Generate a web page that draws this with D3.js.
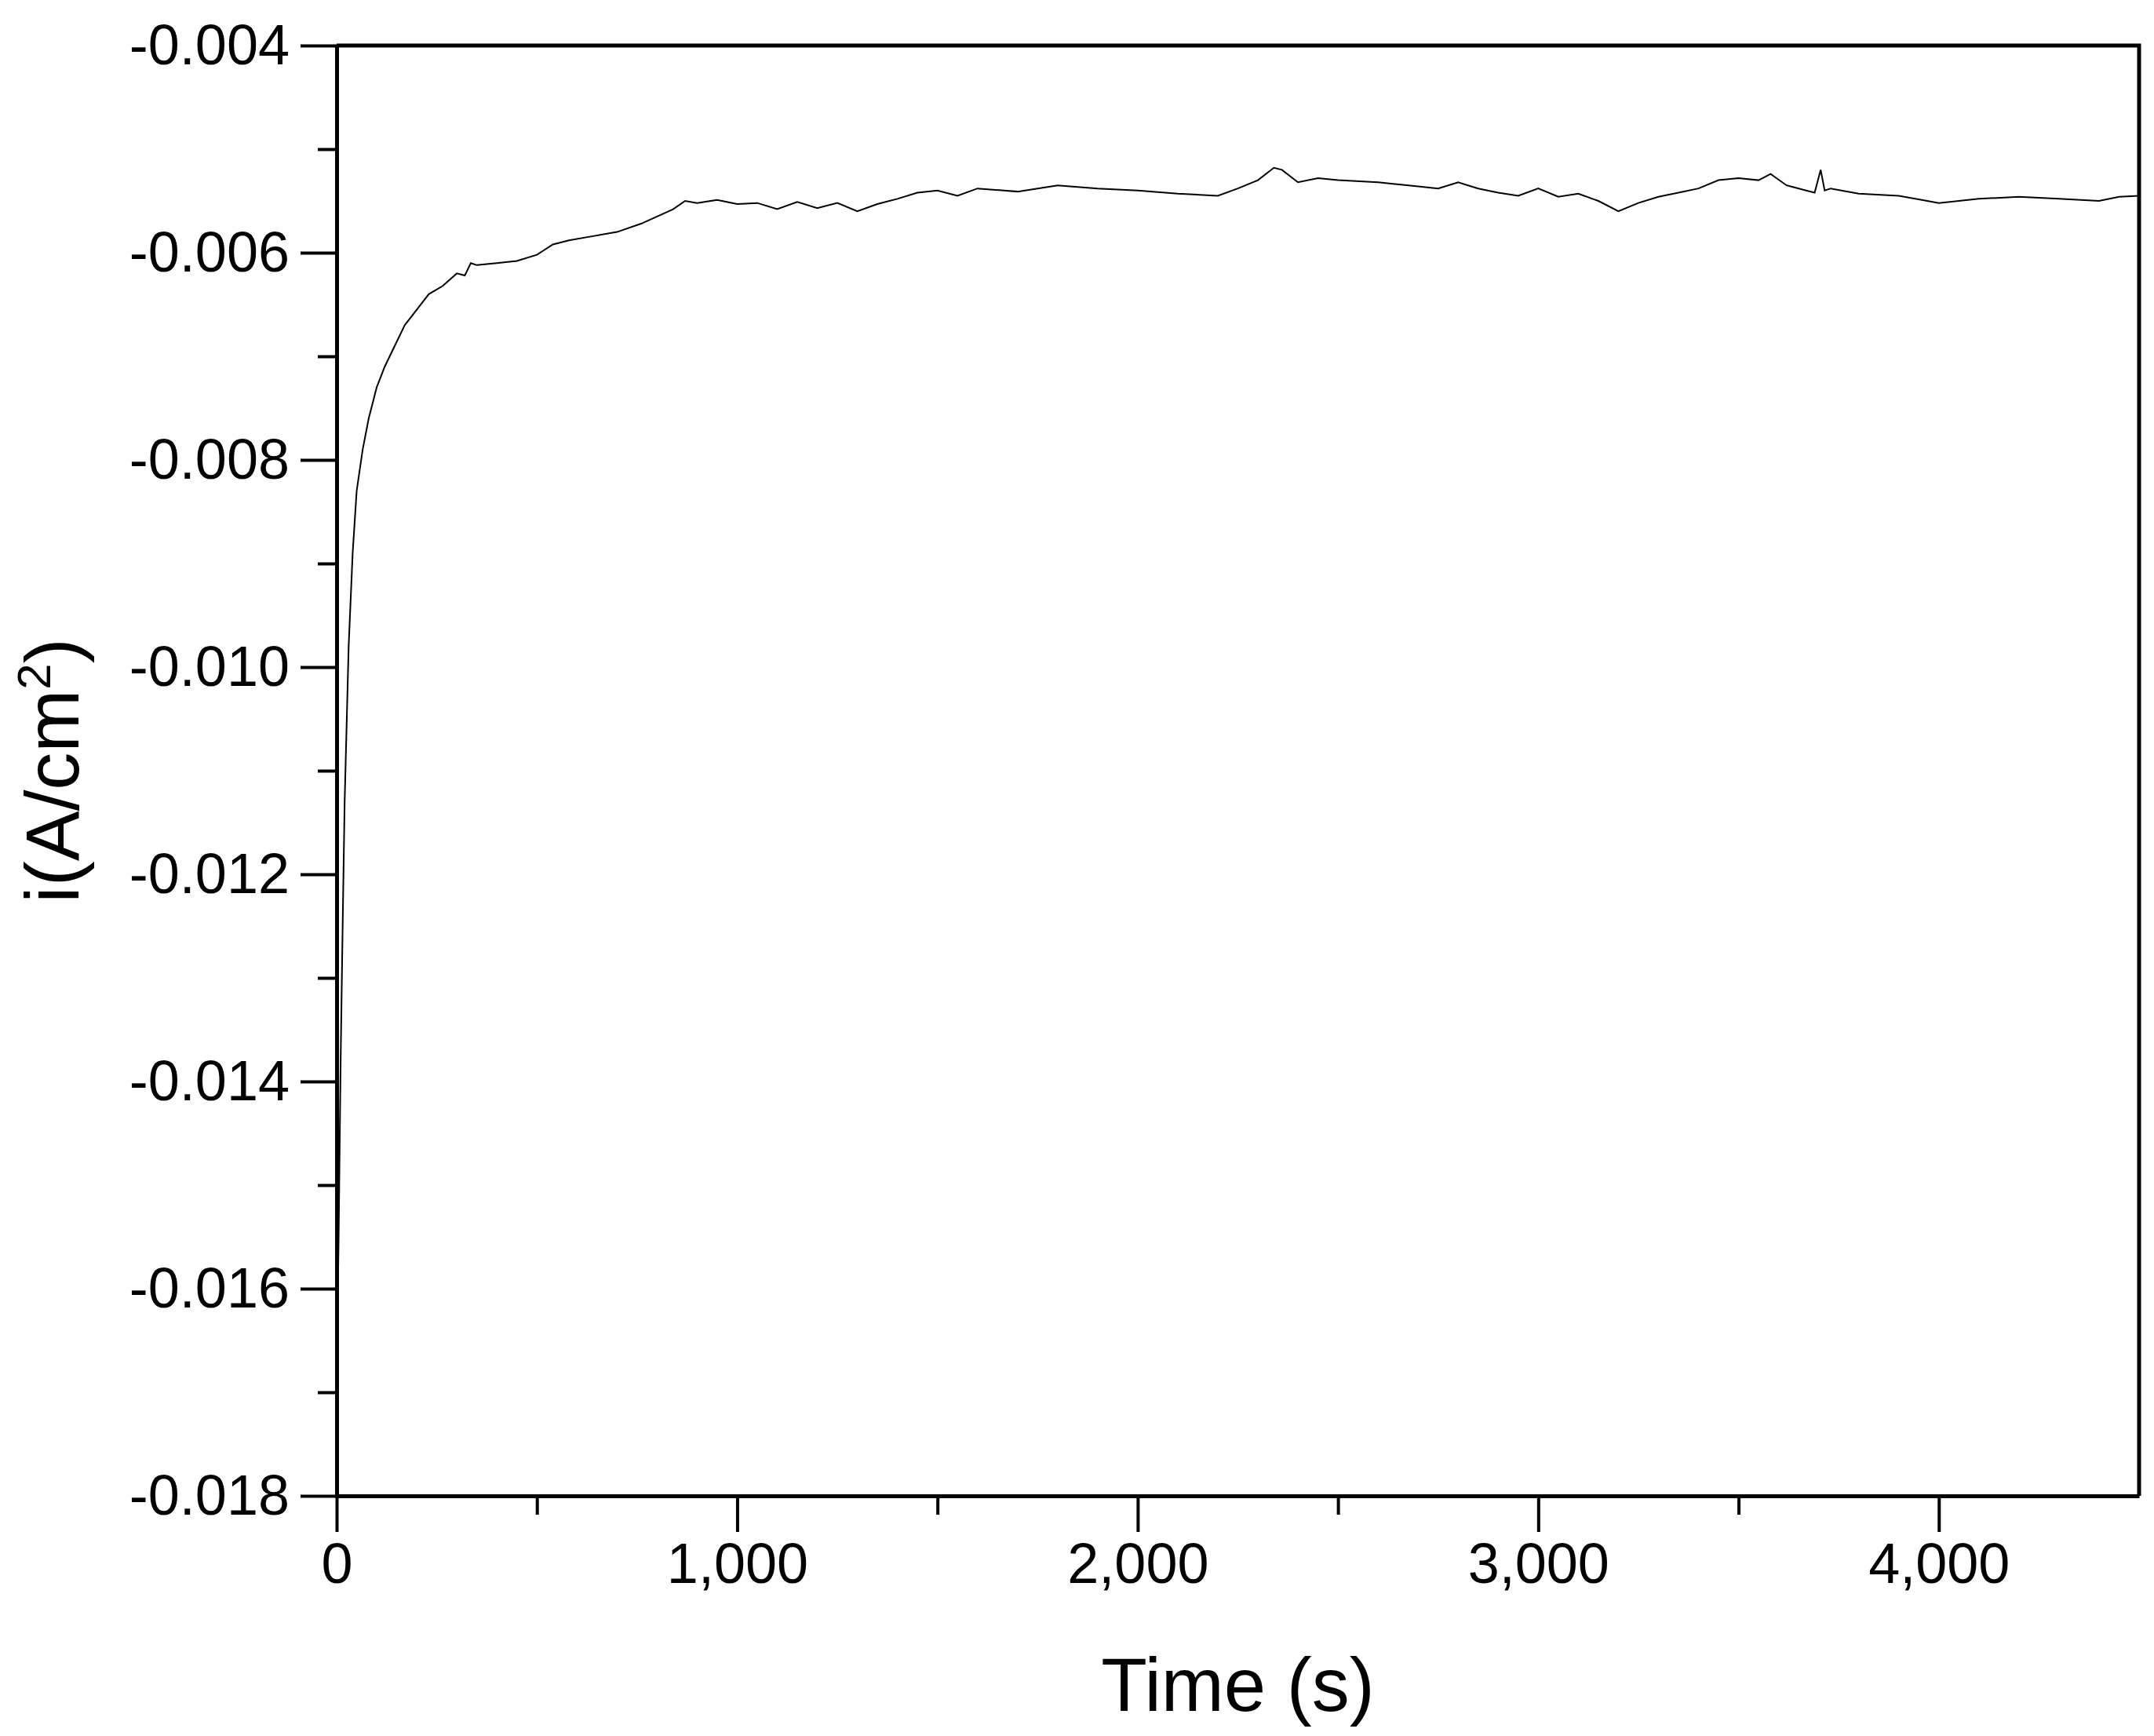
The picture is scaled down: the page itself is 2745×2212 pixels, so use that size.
<!DOCTYPE html>
<html><head><meta charset="utf-8">
<script src="https://cdn.jsdelivr.net/npm/d3@7"></script>
<style>body{margin:0;background:#fff}text{font-family:"Liberation Sans",Arial,sans-serif}</style>
</head><body>
<script>
// data
const times = [0,5,10,15,20,30,40,50,65,80,100,120,145,170,200,230,265,300,320,335,350,400,450,500,540,580,640,700,760,800,840,870,900,950,1000,1050,1100,1150,1200,1250,1300,1350,1400,1450,1500,1550,1600,1700,1800,1900,2000,2100,2200,2250,2300,2340,2360,2400,2450,2500,2600,2700,2750,2800,2850,2900,2950,3000,3050,3100,3150,3200,3250,3300,3350,3400,3450,3500,3550,3580,3620,3650,3690,3705,3715,3730,3800,3900,4000,4100,4200,4300,4400,4450,4500];
const current = [-0.0169,-0.0155,-0.0138,-0.0125,-0.0113,-0.0098,-0.0089,-0.0083,-0.0079,-0.0076,-0.0073,-0.0071,-0.0069,-0.0067,-0.00655,-0.0064,-0.00632,-0.0062,-0.00622,-0.0061,-0.00612,-0.0061,-0.00608,-0.00602,-0.00592,-0.00588,-0.00584,-0.0058,-0.00572,-0.00565,-0.00558,-0.0055,-0.00552,-0.00549,-0.00553,-0.00552,-0.00558,-0.00551,-0.00557,-0.00552,-0.0056,-0.00553,-0.00548,-0.00542,-0.0054,-0.00545,-0.00538,-0.00541,-0.00535,-0.00538,-0.0054,-0.00543,-0.00545,-0.00538,-0.0053,-0.00518,-0.0052,-0.00532,-0.00528,-0.0053,-0.00532,-0.00536,-0.00538,-0.00532,-0.00538,-0.00542,-0.00545,-0.00538,-0.00546,-0.00543,-0.0055,-0.0056,-0.00552,-0.00546,-0.00542,-0.00538,-0.0053,-0.00528,-0.0053,-0.00524,-0.00535,-0.00538,-0.00542,-0.0052,-0.0054,-0.00538,-0.00543,-0.00545,-0.00552,-0.00548,-0.00546,-0.00548,-0.0055,-0.00546,-0.00545];
const xTicks = [0,1000,2000,3000,4000];
const yTicks = [-0.004,-0.006,-0.008,-0.010,-0.012,-0.014,-0.016,-0.018];

const W = 2745, H = 2212;
const m = {left: 429, right: 2726, top: 58, bottom: 1906};

const svg = d3.select('body').append('svg').attr('width', W).attr('height', H);

const x = d3.scaleLinear().domain([0, 4500]).range([m.left, m.right]);
const y = d3.scaleLinear().domain([-0.018, -0.004]).range([m.bottom, m.top]);

const minorX = d3.range(500, 4500, 1000);
const minorY = d3.range(-0.017, -0.004, 0.002);

// minor ticks
svg.append('g').attr('transform', `translate(0,${m.bottom})`)
    .call(d3.axisBottom(x).tickValues(minorX).tickSize(24).tickFormat(''))
    .call(g => g.select('.domain').remove());
svg.append('g').attr('transform', `translate(${m.left},0)`)
    .call(d3.axisLeft(y).tickValues(minorY).tickSize(24).tickFormat(''))
    .call(g => g.select('.domain').remove());

const xAxis = svg.append('g').attr('transform', `translate(0,${m.bottom})`)
    .call(d3.axisBottom(x).tickValues(xTicks).tickSize(46).tickPadding(14).tickSizeOuter(0));
const yAxis = svg.append('g').attr('transform', `translate(${m.left},0)`)
    .call(d3.axisLeft(y).tickValues(yTicks).tickSize(46).tickPadding(14).tickSizeOuter(0)
        .tickFormat(d => d3.format('.3f')(d).replace('−', '-')));

svg.selectAll('.tick line').attr('stroke-width', 4);
svg.selectAll('.domain').attr('stroke-width', 5);
xAxis.selectAll('text').attr('font-size', 72).attr('font-family', 'Liberation Sans');
yAxis.selectAll('text').attr('font-size', 72).attr('font-family', 'Liberation Sans');

// top and right frame
svg.append('path')
    .attr('d', `M${m.left},${m.top}H${m.right}V${m.bottom}`)
    .attr('fill', 'none').attr('stroke', '#000').attr('stroke-width', 5);

const line = d3.line().x((d, i) => x(times[i])).y(d => y(d));
svg.append('path').datum(current)
    .attr('d', line)
    .attr('fill', 'none').attr('stroke', '#000').attr('stroke-width', 2);

svg.append('text').attr('x', (m.left + m.right) / 2).attr('y', 2180)
    .attr('text-anchor', 'middle').attr('font-size', 96).text('Time (s)');

const yl = svg.append('text').attr('transform', `translate(100,${(m.top + m.bottom) / 2}) rotate(-90)`)
    .attr('text-anchor', 'middle').attr('font-size', 96);
yl.append('tspan').text('i(A/cm');
yl.append('tspan').attr('font-size', 60).attr('dy', -36).text('2');
yl.append('tspan').attr('dy', 36).text(')');
</script>
</body></html>
